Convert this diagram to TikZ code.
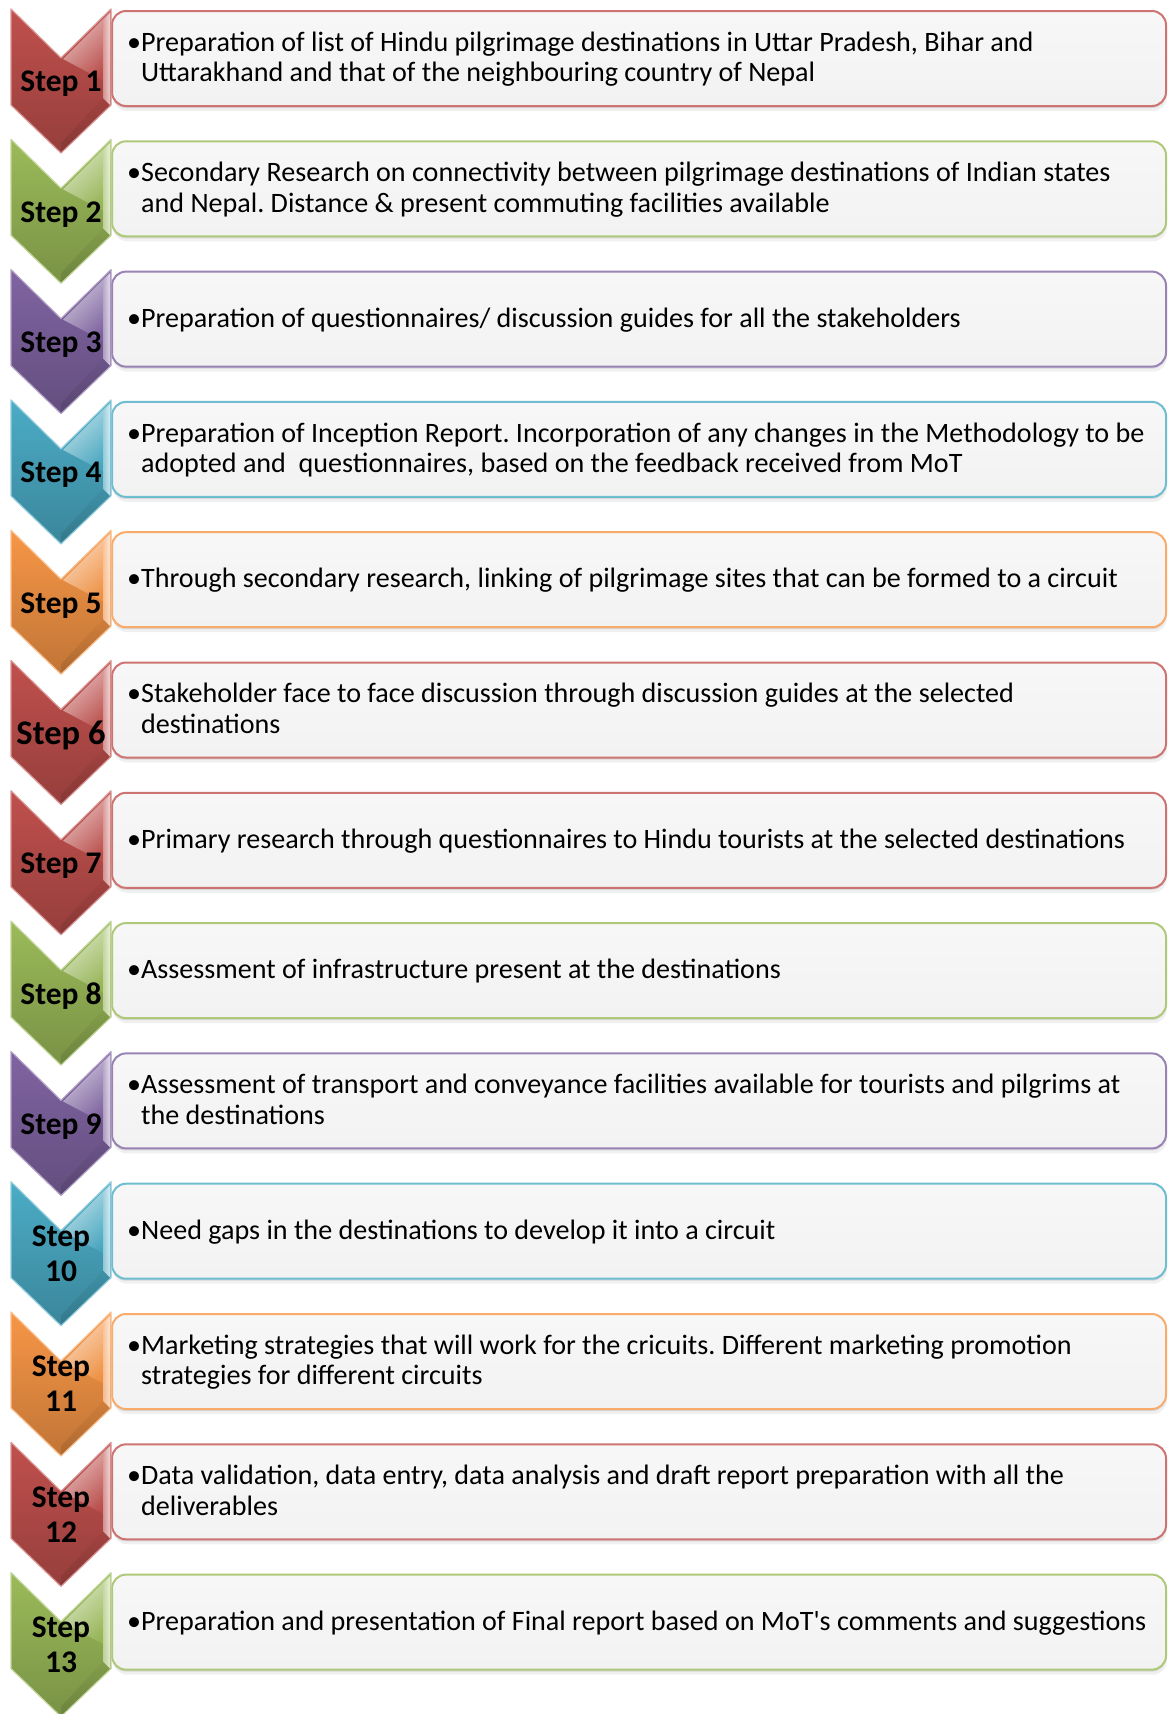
\documentclass[tikz,border=0pt]{standalone}
\usepackage{fontspec}
\setmainfont{Carlito}[Ligatures=TeXOff]
\frenchspacing
\definecolor{stepred}{HTML}{C0504D}
\definecolor{stepgreen}{HTML}{9BBB59}
\definecolor{steppurple}{HTML}{8064A2}
\definecolor{stepaqua}{HTML}{4BACC6}
\definecolor{steporange}{HTML}{F79646}
\definecolor{boxgray}{HTML}{F2F2F2}
\tikzset{
  stepbox/.style={draw=#1!80!white, line width=2pt, rounded corners=14pt,
    top color=boxgray!60!white, bottom color=boxgray, minimum width=1054pt,
    minimum height=95pt, anchor=north west, inner sep=0pt},
  boxshadow/.style={fill=black, rounded corners=14pt},
  chevbody/.style={top color=#1, bottom color=#1!78!black,
    draw=#1!60!white, line width=1.2pt, line join=round},
  steplabel/.style={font=\fontsize{31.5}{35}\selectfont\bfseries, align=center,
    inner sep=0pt, text=black},
  steptext/.style={font=\fontsize{28.1}{30.6}\selectfont, anchor=west,
    inner sep=0pt, text=black},
}
\newcommand\lines[1]{\begin{tabular}[t]{@{}l@{}}#1\end{tabular}}
% #1 index, #2 colour, #3 label, #4 label offset, #5 description
\newcommand\stepitem[5]{%
  \pgfmathsetmacro\T{9+130.3*(#1-1)}
  % soft shadow under the description box
  \fill[boxshadow, opacity=.06] (113,\T+5) rectangle (1167,\T+102);
  \fill[boxshadow, opacity=.10] (112,\T+3) rectangle (1166,\T+99);
  \node[stepbox=#2] (box#1) at (111,\T+1) {};
  % chevron with bevel highlights
  \path[chevbody=#2] (11,\T) -- (61,\T+49) -- (111,\T) -- (111,\T+96)
    -- (61,\T+144) -- (11,\T+96) -- cycle;
  \shade[top color=white, bottom color=#2, shading angle=45, opacity=.65]
    (63,\T+50) -- (110,\T+3) -- (110,\T+75) -- cycle;
  \shade[left color=#2!55!white, right color=white!85!#2, opacity=.85]
    (103,\T+11) -- (110,\T+4) -- (110,\T+96) -- (103,\T+89) -- cycle;
  \shade[top color=#2!80!black, bottom color=#2!55!black, opacity=.35]
    (103,\T+89) -- (110,\T+96) -- (61,\T+143) -- (61,\T+134) -- cycle;
  \node[steplabel] (lab#1) at (61,\T+#4) {#3};
  \node[steptext] (txt#1) at (127,\T+51.5) {•\lines{#5}};
}
\begin{document}
\begin{tikzpicture}[x=1pt, y=-1pt]
\useasboundingbox (0,0) rectangle (1170,1714);
\fill[white] (0,0) rectangle (1170,1714);
\stepitem{1}{stepred}{Step 1}{75}{Preparation of list of Hindu pilgrimage destinations in Uttar Pradesh, Bihar and\\Uttarakhand and that of the neighbouring country of Nepal}
\stepitem{2}{stepgreen}{Step 2}{75}{Secondary Research on connectivity between pilgrimage destinations of Indian states\\and Nepal. Distance \& present commuting facilities available}
\stepitem{3}{steppurple}{Step 3}{75}{Preparation of questionnaires/ discussion guides for all the stakeholders}
\stepitem{4}{stepaqua}{Step 4}{75}{Preparation of Inception Report. Incorporation of any changes in the Methodology to be\\adopted and\ \ questionnaires, based on the feedback received from MoT}
\stepitem{5}{steporange}{Step 5}{75}{Through secondary research, linking of pilgrimage sites that can be formed to a circuit}
\stepitem{6}{stepred}{\fontsize{34.5}{38}\selectfont Step 6}{75}{Stakeholder face to face discussion through discussion guides at the selected\\destinations}
\stepitem{7}{stepred}{Step 7}{75}{Primary research through questionnaires to Hindu tourists at the selected destinations}
\stepitem{8}{stepgreen}{Step 8}{75}{Assessment of infrastructure present at the destinations}
\stepitem{9}{steppurple}{Step 9}{75}{Assessment of transport and conveyance facilities available for tourists and pilgrims at\\the destinations}
\stepitem{10}{stepaqua}{Step\\10}{72}{Need gaps in the destinations to develop it into a circuit}
\stepitem{11}{steporange}{Step\\11}{72}{Marketing strategies that will work for the cricuits. Different marketing promotion\\strategies for different circuits}
\stepitem{12}{stepred}{Step\\12}{72}{Data validation, data entry, data analysis and draft report preparation with all the\\deliverables}
\stepitem{13}{stepgreen}{Step\\13}{72}{Preparation and presentation of Final report based on MoT's comments and suggestions}
\end{tikzpicture}
\end{document}
